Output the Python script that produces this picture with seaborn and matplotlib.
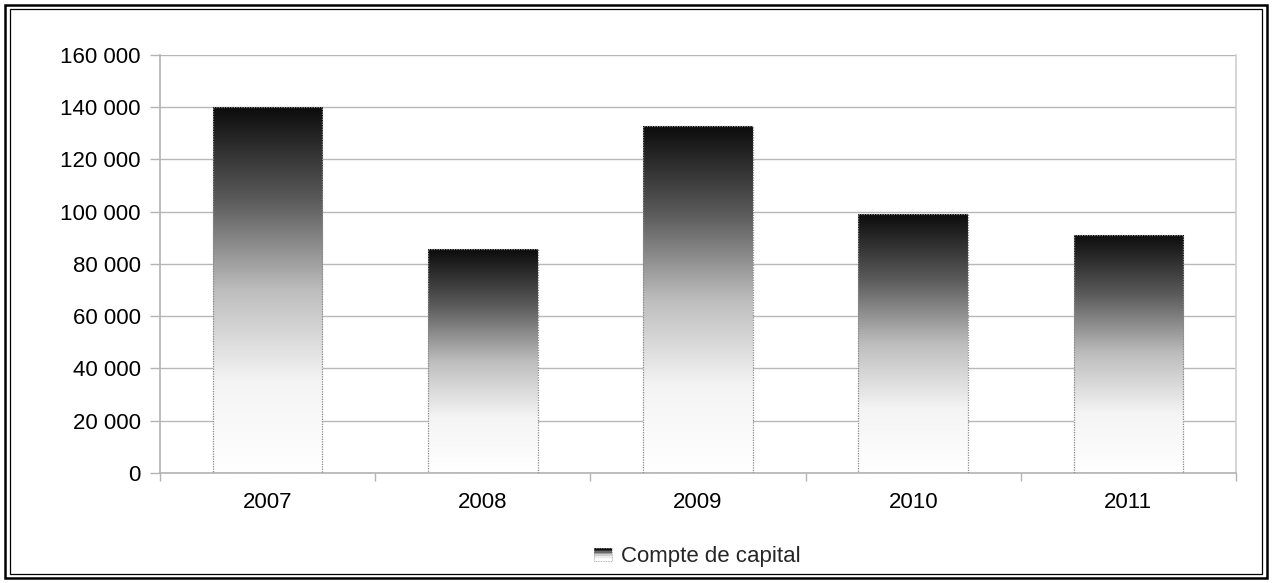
import numpy as np
import pandas as pd
import matplotlib
matplotlib.use("Agg")
import matplotlib.pyplot as plt
import seaborn as sns
from matplotlib.patches import Rectangle
from matplotlib.legend_handler import HandlerBase
from matplotlib.ticker import FuncFormatter, FixedLocator

years = ["2007", "2008", "2009", "2010", "2011"]
values = [140000, 85700, 132800, 99100, 91100]
series_name = "Compte de capital"
y_ticks = [0, 20000, 40000, 60000, 80000, 100000, 120000, 140000, 160000]

sns.set_theme(style="white")
plt.rcParams["font.family"] = ["Liberation Sans", "DejaVu Sans"]
FS = 16

df = pd.DataFrame({"year": years, "value": values})

fig = plt.figure(figsize=(12.72, 5.83), dpi=100)
ax = fig.add_axes([0.1258, 0.1887, 0.9717 - 0.1258, 0.9057 - 0.1887])

sns.barplot(data=df, x="year", y="value", ax=ax, width=0.51,
            color="white", edgecolor="#8a8a8a", linewidth=0.9, zorder=3)

# vertical gradient (dark top -> white bottom) clipped to each bar
grad = np.linspace(0, 1, 256).reshape(-1, 1)
cmap = matplotlib.colors.LinearSegmentedColormap.from_list(
    "bargrad", ["#0c0c0c", "#5a5a5a", "#bdbdbd", "#f4f4f4", "#ffffff"])
for patch in ax.patches:
    x0, y0 = patch.get_x(), patch.get_y()
    w, h = patch.get_width(), patch.get_height()
    patch.set_facecolor("none")
    patch.set_linestyle((0, (1, 1)))
    im = ax.imshow(grad, cmap=cmap, aspect="auto", origin="upper",
                   extent=[x0, x0 + w, y0, y0 + h], zorder=2.5,
                   interpolation="bilinear")
    im.set_clip_path(patch)

ax.set_xlim(-0.5, len(years) - 0.5)
ax.set_ylim(0, 160000)

ax.yaxis.set_major_locator(FixedLocator(y_ticks))
ax.yaxis.set_major_formatter(FuncFormatter(lambda v, p: f"{int(v):,}".replace(",", " ")))
ax.grid(axis="y", color="#b8b8b8", linewidth=1.0, zorder=0)
ax.set_axisbelow(True)

ax.set_xlabel("")
ax.set_ylabel("")
ax.tick_params(axis="y", which="major", length=7, color="#b3b3b3", width=1,
               labelsize=FS, pad=7, left=True, labelcolor="black")
ax.tick_params(axis="x", which="major", length=0, labelsize=FS, pad=14, labelcolor="black")
ax.set_xticks(np.arange(-0.5, len(years), 1.0), minor=True)
ax.tick_params(axis="x", which="minor", length=6, color="#b3b3b3", width=1, bottom=True,
               direction="out")

ax.spines["top"].set_visible(False)
for side in ["left", "bottom", "right"]:
    ax.spines[side].set_visible(True)
    ax.spines[side].set_color("#b3b3b3")
    ax.spines[side].set_linewidth(1.2)
ax.spines["right"].set_color("#d0d0d0")


class GradientHandler(HandlerBase):
    def create_artists(self, legend, orig_handle, xdescent, ydescent,
                       width, height, fontsize, trans):
        n = 8
        arts = []
        for i in range(n):
            c = cmap(i / (n - 1))
            r = Rectangle((-xdescent, -ydescent + height * (1 - (i + 1) / n)),
                          width, height / n, facecolor=c, edgecolor="none",
                          transform=trans)
            arts.append(r)
        border = Rectangle((-xdescent, -ydescent), width, height, facecolor="none",
                           edgecolor="#9a9a9a", linewidth=0.6, linestyle=(0, (1, 1)),
                           transform=trans)
        arts.append(border)
        return arts


proxy = Rectangle((0, 0), 1, 1)
fig.legend([proxy], [series_name], handler_map={Rectangle: GradientHandler()},
           loc="center", bbox_to_anchor=(0.548, 0.045), frameon=False,
           fontsize=FS, handlelength=0.8, handleheight=0.5, handletextpad=0.4)

# double frame around the figure
fig.patches.append(Rectangle((0.004, 0.008), 0.992, 0.984, transform=fig.transFigure,
                             fill=False, edgecolor="black", linewidth=1.8))
fig.patches.append(Rectangle((0.0075, 0.0155), 0.985, 0.969, transform=fig.transFigure,
                             fill=False, edgecolor="black", linewidth=0.9))

fig.savefig("out.png", dpi=100)
